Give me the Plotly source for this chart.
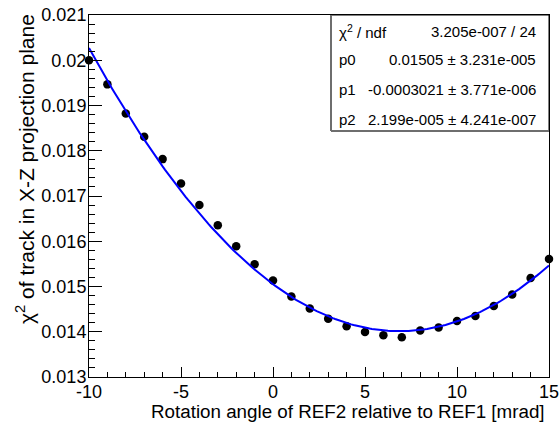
import numpy as np
import plotly.graph_objects as go

# Rotation angle scan [mrad] and track chi2 in the X-Z projection plane
angle = list(range(-10, 16))
chi2 = [0.02000, 0.019467, 0.018825, 0.018309, 0.017815, 0.017276, 0.016800,
        0.016355, 0.015890, 0.015492, 0.015131, 0.014777, 0.014512, 0.014290,
        0.014121, 0.013995, 0.013922, 0.013878, 0.014026, 0.014092, 0.014238,
        0.014349, 0.014570, 0.014822, 0.015189, 0.015610]

# pol2 fit result
p0, p0_err = 0.01505, 3.231e-05
p1, p1_err = -0.0003021, 3.771e-06
p2, p2_err = 2.199e-05, 4.241e-07
chi2_fit, ndf = 3.205e-07, 24

x_ticks = [-10, -5, 0, 5, 10, 15]
x_ticktext = ["-10", "-5", "0", "5", "10", "15"]
y_ticks = [0.013, 0.014, 0.015, 0.016, 0.017, 0.018, 0.019, 0.020, 0.021]
y_ticktext = ["0.013", "0.014", "0.015", "0.016", "0.017", "0.018", "0.019", "0.02", "0.021"]

FONT = "Liberation Sans, Arial, Helvetica, sans-serif"

xf = np.linspace(-10, 15, 201)
yf = p0 + p1 * xf + p2 * xf ** 2

fig = go.Figure()
fig.add_trace(go.Scatter(x=angle, y=chi2, mode="markers",
                         marker=dict(color="black", size=8.5),
                         cliponaxis=False, showlegend=False))
fig.add_trace(go.Scatter(x=xf, y=yf, mode="lines",
                         line=dict(color="rgb(0,0,255)", width=2),
                         showlegend=False))

W, H = 559, 426
L, R, T, B = 89, 10, 15, 49
pw, ph = W - L - R, H - T - B


def px(x):
    return (x - L) / pw


def py(y):
    return (H - B - y) / ph


axis_common = dict(showline=True, linecolor="black", linewidth=1, mirror=True,
                   ticks="inside", tickcolor="black", tickwidth=1,
                   showgrid=False, zeroline=False, automargin=False,
                   ticklabeloverflow="allow",
                   tickfont=dict(family=FONT, size=18, color="black"))

fig.update_layout(
    template="none",
    width=W, height=H,
    margin=dict(l=L, r=R, t=T, b=B, autoexpand=False),
    paper_bgcolor="white", plot_bgcolor="white",
    xaxis=dict(range=[-10, 15], tickvals=x_ticks, ticktext=x_ticktext, ticklen=10,
               ticklabelstandoff=-2,
               minor=dict(dtick=1, tick0=-10, ticklen=5, ticks="inside",
                          tickcolor="black", showgrid=False),
               **axis_common),
    yaxis=dict(range=[0.013, 0.021], tickvals=y_ticks, ticktext=y_ticktext, ticklen=13,
               ticklabelstandoff=-2,
               minor=dict(dtick=0.0002, tick0=0.013, ticklen=6, ticks="inside",
                          tickcolor="black", showgrid=False),
               **axis_common),
)

# Axis titles (right/top aligned)
fig.add_annotation(text="Rotation angle of REF2 relative to REF1 [mrad]",
                   xref="paper", yref="paper", x=px(547), y=py(411),
                   xanchor="right", yanchor="middle", showarrow=False,
                   font=dict(family=FONT, size=18.8, color="black"))
fig.add_annotation(text="χ<sup>2</sup> of track in X-Z projection plane",
                   xref="paper", yref="paper", x=px(25), y=py(12),
                   xanchor="center", yanchor="top", textangle=-90, showarrow=False,
                   font=dict(family=FONT, size=21, color="black"))

# Fit statistics box
bx0, bx1, by0, by1 = px(331), 1.0, py(131), 1.0
fig.add_shape(type="rect", xref="paper", yref="paper", x0=bx0, x1=bx1, y0=by0, y1=by1,
              line=dict(color="black", width=1), fillcolor="white", layer="above")
fig.add_shape(type="line", xref="paper", yref="paper", x0=bx0, x1=bx0, y0=by0, y1=by1,
              line=dict(color="rgb(110,110,110)", width=2), layer="above")
fig.add_shape(type="line", xref="paper", yref="paper", x0=bx0, x1=bx1, y0=by0, y1=by0,
              line=dict(color="rgb(110,110,110)", width=2), layer="above")


def sci(v):
    # ROOT-style exponent with three digits
    m, e = f"{v:.3e}".split("e")
    return f"{m}e{e[0]}{int(e[1:]):03d}"


rows = [
    ("χ<sup>2</sup> / ndf", f"{sci(chi2_fit)} / {ndf}"),
    ("p0", f"{p0:.5f} ± {sci(p0_err)}"),
    ("p1", f"{p1:.7f} ± {sci(p1_err)}"),
    ("p2", f"{sci(p2)} ± {sci(p2_err)}"),
]
row_y = [31, 60, 90, 119]
for (lab, val), yy in zip(rows, row_y):
    fig.add_annotation(text=lab, xref="paper", yref="paper", x=px(337), y=py(yy),
                       xanchor="left", yanchor="middle", showarrow=False,
                       font=dict(family=FONT, size=15, color="black"))
    fig.add_annotation(text=val, xref="paper", yref="paper", x=px(538), y=py(yy),
                       xanchor="right", yanchor="middle", showarrow=False,
                       font=dict(family=FONT, size=15, color="black"))

fig.write_html("out.html")
